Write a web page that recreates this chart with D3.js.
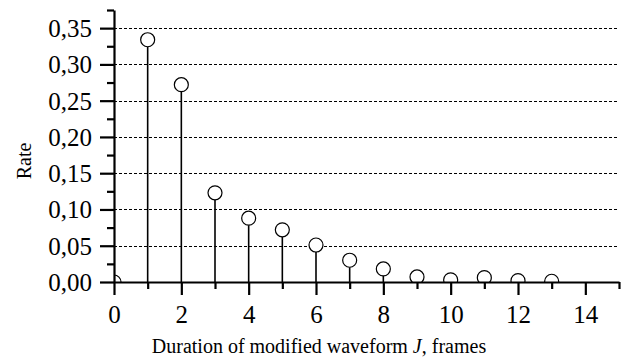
<!DOCTYPE html>
<html>
<head>
<meta charset="utf-8">
<script src="https://cdn.jsdelivr.net/npm/d3@7"></script>
<style>
  body { margin: 0; background: #fff; }
  svg text { font-family: "Liberation Serif", "Times New Roman", serif; fill: #000; }
</style>
</head>
<body>
<div id="plot"></div>
<script>
// Data
const durations = [0, 1, 2, 3, 4, 5, 6, 7, 8, 9, 10, 11, 12, 13];
const rates = [0.000, 0.334, 0.272, 0.123, 0.088, 0.072, 0.051, 0.030, 0.018, 0.007, 0.003, 0.006, 0.002, 0.001];
const xMajorTicks = [0, 2, 4, 6, 8, 10, 12, 14];
const yMajorTicks = [0, 0.05, 0.10, 0.15, 0.20, 0.25, 0.30, 0.35];

const serif = '"Liberation Serif", "Times New Roman", serif';
const width = 630, height = 359;
const margin = {left: 114, top: 10, right: 11, bottom: 77};
const innerW = width - margin.left - margin.right;
const innerH = height - margin.top - margin.bottom;

const svg = d3.select("#plot")
    .append("svg")
    .attr("width", width)
    .attr("height", height);

const g = svg.append("g")
    .attr("transform", `translate(${margin.left},${margin.top})`);

const x = d3.scaleLinear().domain([0, 15]).range([0, innerW]);
const y = d3.scaleLinear().domain([0, 0.375]).range([innerH, 0]);

// dashed grid lines
g.selectAll("line.grid")
    .data(yMajorTicks.filter(d => d > 0))
    .enter()
    .append("line")
    .attr("class", "grid")
    .attr("x1", 0)
    .attr("x2", innerW)
    .attr("y1", d => Math.round(y(d)) + 0.5)
    .attr("y2", d => Math.round(y(d)) + 0.5)
    .attr("stroke", "#000")
    .attr("stroke-width", 1)
    .attr("stroke-dasharray", "3,2");

// clip circles to the plot area
svg.append("clipPath")
    .attr("id", "clip")
    .append("rect")
    .attr("x", 0)
    .attr("y", 0)
    .attr("width", innerW)
    .attr("height", innerH);

const points = durations.map((d, i) => ({dur: d, rate: rates[i]}));

// stems
g.selectAll("line.stem")
    .data(points)
    .enter()
    .append("line")
    .attr("class", "stem")
    .attr("x1", d => x(d.dur))
    .attr("x2", d => x(d.dur))
    .attr("y1", y(0))
    .attr("y2", d => Math.min(y(d.rate) + 7, y(0)))
    .attr("stroke", "#000")
    .attr("stroke-width", 1.6);

// circles
g.append("g")
    .attr("clip-path", "url(#clip)")
    .selectAll("circle")
    .data(points)
    .enter()
    .append("circle")
    .attr("cx", d => x(d.dur))
    .attr("cy", d => y(d.rate))
    .attr("r", 7)
    .attr("fill", "#fff")
    .attr("stroke", "#000")
    .attr("stroke-width", 1.2);

// x axis
const xAxis = d3.axisBottom(x)
    .tickValues(d3.range(0, 16))
    .tickSize(0)
    .tickFormat("");
const gx = g.append("g")
    .attr("transform", `translate(0,${innerH})`)
    .call(xAxis)
    .attr("font-family", serif);
gx.select(".domain").attr("stroke-width", 2.2);
gx.selectAll(".tick line")
    .attr("y2", d => d % 2 === 0 ? 13 : 7)
    .attr("stroke-width", 2.2);
gx.selectAll(".tick")
    .filter(d => xMajorTicks.includes(d))
    .append("text")
    .attr("y", 41)
    .attr("text-anchor", "middle")
    .style("font-family", serif)
    .style("font-size", "25px")
    .text(d => d);

// y axis
const yFmt = d3.format(".2f");
const yAxis = d3.axisLeft(y)
    .tickValues(d3.range(0, 16).map(i => i * 0.025))
    .tickSize(0)
    .tickFormat("");
const gy = g.append("g").call(yAxis)
    .attr("font-family", serif);
gy.select(".domain").attr("stroke-width", 2.2);
gy.selectAll(".tick line")
    .attr("x2", (d, i) => i % 2 === 0 ? -14 : -7)
    .attr("stroke-width", 2.2);
gy.selectAll(".tick")
    .filter((d, i) => i % 2 === 0 && i < 15)
    .append("text")
    .attr("x", -22)
    .attr("dy", "0.34em")
    .attr("text-anchor", "end")
    .style("font-family", serif)
    .style("font-size", "25px")
    .text(d => yFmt(d).replace(".", ","));

// axis titles
const xTitle = svg.append("text")
    .attr("x", 319)
    .attr("y", 353)
    .attr("text-anchor", "middle")
    .style("font-family", serif)
    .style("font-size", "20px");
xTitle.append("tspan").text("Duration of modified waveform ");
xTitle.append("tspan").style("font-style", "italic").text("J");
xTitle.append("tspan").text(", frames");

svg.append("text")
    .attr("transform", "translate(31,161) rotate(-90)")
    .attr("text-anchor", "middle")
    .style("font-family", serif)
    .style("font-size", "20px")
    .text("Rate");
</script>
</body>
</html>
